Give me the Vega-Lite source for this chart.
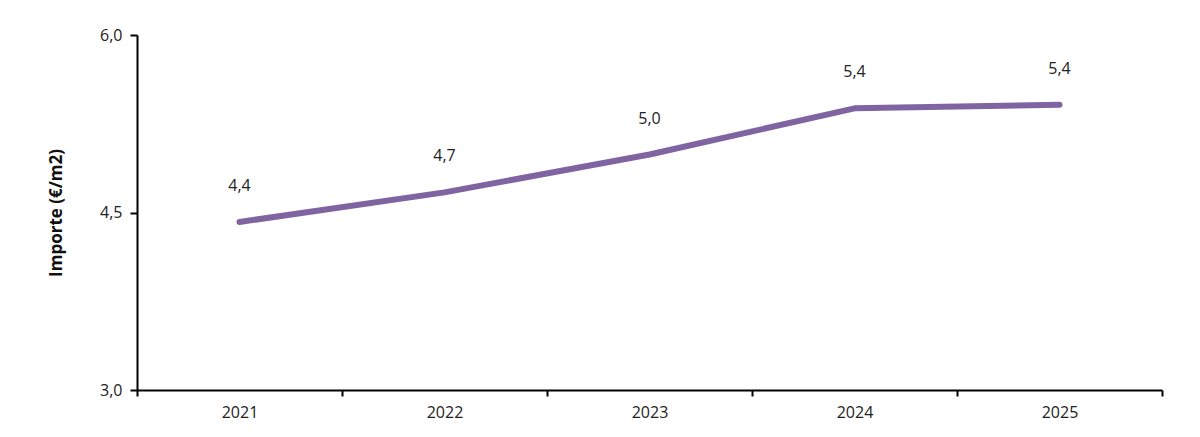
{
  "$schema": "https://vega.github.io/schema/vega-lite/v6.json",
  "autosize": "none",
  "padding": {"left": 137, "top": 35, "right": 38, "bottom": 47},
  "width": 1025,
  "height": 355,
  "background": "white",
  "config": {"view": {"stroke": null}, "font": "Open Sans"},
  "data": {"values": [
    {"year": "2021", "v": 4.42},
    {"year": "2022", "v": 4.67},
    {"year": "2023", "v": 4.99},
    {"year": "2024", "v": 5.38},
    {"year": "2025", "v": 5.41}
  ]},
  "transform": [{"calculate": "replace(format(datum.v, '.1f'), '.', ',')", "as": "label"}],
  "encoding": {
    "x": {"field": "year", "type": "ordinal",
      "scale": {"paddingInner": 0, "paddingOuter": 0},
      "axis": {"title": null, "labelAngle": 0, "tickBand": "extent", "domainColor": "black", "domainWidth": 2, "tickColor": "black", "tickWidth": 2, "tickSize": 6, "labelFontSize": 16, "labelColor": "#222", "labelPadding": 8}},
    "y": {"field": "v", "type": "quantitative",
      "scale": {"domain": [3, 6], "nice": false, "zero": false},
      "axis": {"title": "Importe (€/m2)", "values": [3, 4.5, 6], "grid": false, "labelExpr": "replace(format(datum.value, '.1f'), '.', ',')", "domainColor": "black", "domainWidth": 2, "tickColor": "black", "tickWidth": 2, "tickSize": 7, "labelFontSize": 16, "labelColor": "#222", "labelPadding": 8, "titleFontSize": 17, "titleFontWeight": "bold", "titleColor": "#111", "titlePadding": 34}}
  },
  "layer": [
    {"mark": {"type": "line", "color": "#8064A2", "strokeWidth": 6, "strokeCap": "round", "strokeJoin": "round"}},
    {"mark": {"type": "text", "dy": -36, "fontSize": 16, "color": "#222"}, "encoding": {"text": {"field": "label"}}}
  ]
}
